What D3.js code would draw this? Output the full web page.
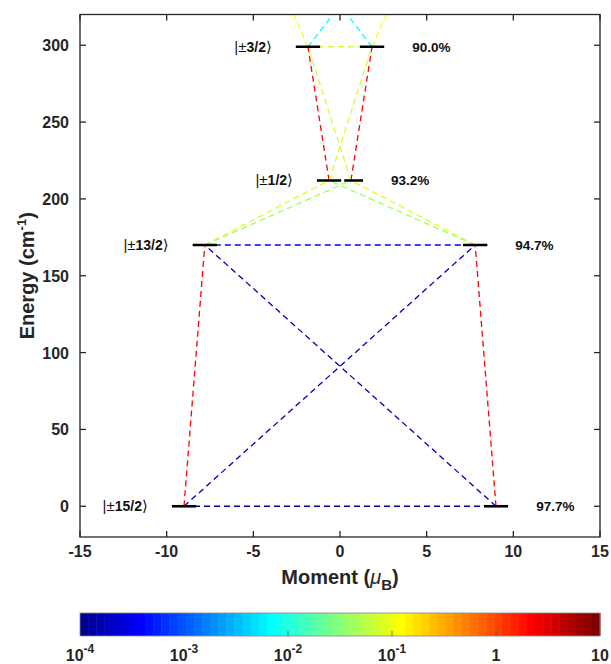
<!DOCTYPE html>
<html>
<head>
<meta charset="utf-8">
<script src="https://cdn.jsdelivr.net/npm/d3@7/dist/d3.min.js"></script>
<style>
  body { margin: 0; background: #fff; }
  svg  { display: block; font-family: "Liberation Sans", Arial, sans-serif; }
</style>
</head>
<body>
<div id="chart"></div>
<script>
// ############################################################################
// Kramers doublet energy diagram with transition moments (jet colour map)
// ############################################################################

// ----------------------------------------------------------------------------
// Data
// ----------------------------------------------------------------------------

// Doublets: label, energy (cm-1), moment (muB, plotted at +/-), purity (%)
const levels   = ['15/2', '13/2', '1/2', '3/2', '11/2']
const energies = [0, 170, 212, 299, 425]
const moments  = [9.0, 7.8, 0.63, 1.85, 6.8]
const purities = [97.7, 94.7, 93.2, 90.0, null]

// Transitions: [from, to, average transition moment]
const transitions = [
  ['-15/2', '+15/2', 1.2e-4],
  ['-15/2', '+13/2', 1.5e-4],
  ['+15/2', '-13/2', 1.5e-4],
  ['-15/2', '-13/2', 2.0],
  ['+15/2', '+13/2', 2.0],
  ['-13/2', '+13/2', 4.0e-4],
  ['-13/2', '-1/2',  0.08],
  ['-13/2', '+1/2',  0.045],
  ['+13/2', '+1/2',  0.08],
  ['+13/2', '-1/2',  0.045],
  ['-1/2',  '-3/2',  2.2],
  ['+1/2',  '+3/2',  2.2],
  ['-1/2',  '+3/2',  0.075],
  ['+1/2',  '-3/2',  0.075],
  ['-3/2',  '+3/2',  0.07],
  ['-3/2',  '-11/2', 0.13],
  ['+3/2',  '+11/2', 0.13],
  ['-3/2',  '+11/2', 0.007],
  ['+3/2',  '-11/2', 0.007],
]

const xTicks = [-15, -10, -5, 0, 5, 10, 15]
const yTicks = [0, 50, 100, 150, 200, 250, 300]
const cbarTicks  = [1e-4, 1e-3, 1e-2, 1e-1, 1, 10]
const cbarLabels = [['10', '-4'], ['10', '-3'], ['10', '-2'], ['10', '-1'], ['1', ''], ['10', '']]

// ----------------------------------------------------------------------------
// Layout
// ----------------------------------------------------------------------------

const W = 611, H = 664
const plot = { left: 80, right: 600, top: 14.5, bottom: 537 }
const cbar = { top: 613, bottom: 636 }
const barHalf = 0.7        // half width of a level bar (muB)
const ink = '#262626'

const svg = d3.select('#chart').append('svg')
  .attr('width', W)
  .attr('height', H)

const x = d3.scaleLinear().domain([-15, 15]).range([plot.left, plot.right])
const y = d3.scaleLinear().domain([-20, 320]).range([plot.bottom, plot.top])

// MATLAB jet(64)
function jet(m)
{
  const n = Math.ceil(m / 4)
  const u = []
  for (let i = 1; i <= n; i++) u.push(i / n)
  for (let i = 0; i < n - 1; i++) u.push(1)
  for (let i = n; i >= 1; i--) u.push(i / n)
  const g0 = Math.ceil(n / 2) - (m % 4 == 1 ? 1 : 0)
  const map = d3.range(m).map(() => [0, 0, 0])
  u.forEach((v, k) => {
    const gi = g0 + k, ri = gi + n, bi = gi - n
    if (ri >= 0 && ri < m) map[ri][0] = v
    if (gi >= 0 && gi < m) map[gi][1] = v
    if (bi >= 0 && bi < m) map[bi][2] = v
  })
  return map.map(c => d3.rgb(c[0] * 255, c[1] * 255, c[2] * 255).formatHex())
}
const colours = jet(64)
const logC = d3.scaleLog().domain([1e-4, 10]).range([0, 64])
const colourOf = v => colours[Math.max(0, Math.min(63, Math.floor(logC(v))))]

// Position of a signed state, e.g. '-13/2'
function state(id)
{
  const i = levels.indexOf(id.slice(1))
  const sign = id[0] == '-' ? -1 : 1
  return { m: sign * moments[i], e: energies[i] }
}

// ----------------------------------------------------------------------------
// Transitions (dashed, clipped to the axes)
// ----------------------------------------------------------------------------

svg.append('clipPath').attr('id', 'plot-clip')
  .append('rect')
  .attr('x', plot.left).attr('y', plot.top)
  .attr('width', plot.right - plot.left)
  .attr('height', plot.bottom - plot.top)

const body = svg.append('g').attr('clip-path', 'url(#plot-clip)')

body.selectAll('line.trans')
  .data(transitions)
  .join('line')
  .attr('class', 'trans')
  .attr('x1', d => x(state(d[0]).m))
  .attr('y1', d => y(state(d[0]).e))
  .attr('x2', d => x(state(d[1]).m))
  .attr('y2', d => y(state(d[1]).e))
  .attr('stroke', d => colourOf(d[2]))
  .attr('stroke-width', 1.3)
  .attr('stroke-dasharray', '6,4')

// ----------------------------------------------------------------------------
// Level bars and labels
// ----------------------------------------------------------------------------

const shown = levels.map((l, i) => i).filter(i => energies[i] <= y.domain()[1])

shown.forEach(i => {
  const e = energies[i], m = moments[i]
  const lx0 = x(-m - barHalf), lx1 = x(-m + barHalf)
  // right bar never runs into the left one
  const rx0 = Math.max(x(m - barHalf), lx1 + 3), rx1 = x(m + barHalf)

  body.append('line')
    .attr('x1', lx0).attr('x2', lx1)
    .attr('y1', y(e)).attr('y2', y(e))
    .attr('stroke', '#000').attr('stroke-width', 2.6)
  body.append('line')
    .attr('x1', rx0).attr('x2', rx1)
    .attr('y1', y(e)).attr('y2', y(e))
    .attr('stroke', '#000').attr('stroke-width', 2.6)

  const lab = svg.append('text')
    .attr('x', lx0 - 24)
    .attr('y', y(e) + 5)
    .attr('text-anchor', 'end')
    .style('font-size', '15px')
    .attr('fill', '#111')
  lab.append('tspan').text('|\u00b1')
  lab.append('tspan').attr('font-weight', 'bold').style('font-size', '14px').text(levels[i])
  lab.append('tspan').attr('font-family', 'DejaVu Sans').text('\u27e9')

  svg.append('text')
    .attr('x', rx1 + 28)
    .attr('y', y(e) + 5)
    .attr('font-weight', 'bold')
    .attr('fill', '#111')
    .style('font-size', '13.5px')
    .text(purities[i].toFixed(1) + '%')
})

// ----------------------------------------------------------------------------
// Axes (box with inward ticks on all sides)
// ----------------------------------------------------------------------------

const tickLen = 6
const axes = svg.append('g')
  .attr('stroke', ink)
  .attr('stroke-width', 1.3)

axes.append('rect')
  .attr('x', plot.left).attr('y', plot.top)
  .attr('width', plot.right - plot.left)
  .attr('height', plot.bottom - plot.top)
  .attr('fill', 'none')

xTicks.forEach(t => {
  axes.append('line').attr('x1', x(t)).attr('x2', x(t))
    .attr('y1', plot.bottom).attr('y2', plot.bottom - tickLen)
  axes.append('line').attr('x1', x(t)).attr('x2', x(t))
    .attr('y1', plot.top).attr('y2', plot.top + tickLen)
})
yTicks.forEach(t => {
  axes.append('line').attr('y1', y(t)).attr('y2', y(t))
    .attr('x1', plot.left).attr('x2', plot.left + tickLen)
  axes.append('line').attr('y1', y(t)).attr('y2', y(t))
    .attr('x1', plot.right).attr('x2', plot.right - tickLen)
})

svg.append('g').selectAll('text')
  .data(xTicks)
  .join('text')
  .attr('x', d => x(d))
  .attr('y', plot.bottom + 20)
  .attr('text-anchor', 'middle')
  .attr('font-weight', 'bold')
  .attr('fill', ink)
  .style('font-size', '16px')
  .text(d => d)

svg.append('g').selectAll('text')
  .data(yTicks)
  .join('text')
  .attr('x', plot.left - 11)
  .attr('y', d => y(d) + 6)
  .attr('text-anchor', 'end')
  .attr('font-weight', 'bold')
  .attr('fill', ink)
  .style('font-size', '16px')
  .text(d => d)

// Axis titles
const xTitle = svg.append('text')
  .attr('x', x(0))
  .attr('y', 584)
  .attr('text-anchor', 'middle')
  .attr('font-weight', 'bold')
  .attr('fill', ink)
  .style('font-size', '20px')
xTitle.append('tspan').text('Moment (')
xTitle.append('tspan').attr('font-style', 'italic').attr('font-weight', 'normal').text('\u03bc')
xTitle.append('tspan').attr('dy', 6).style('font-size', '15px').text('B')
xTitle.append('tspan').attr('dy', -6).text(')')

const yTitle = svg.append('text')
  .attr('transform', `translate(34,${y(150)}) rotate(-90)`)
  .attr('text-anchor', 'middle')
  .attr('font-weight', 'bold')
  .attr('fill', ink)
  .style('font-size', '20px')
yTitle.append('tspan').text('Energy (cm')
yTitle.append('tspan').attr('dy', -8).style('font-size', '13px').text('-1')
yTitle.append('tspan').attr('dy', 8).text(')')

// ----------------------------------------------------------------------------
// Colour bar
// ----------------------------------------------------------------------------

const cx = d3.scaleLog().domain([1e-4, 10]).range([plot.left, plot.right])
const bandW = (plot.right - plot.left) / colours.length

svg.append('g').selectAll('rect')
  .data(colours)
  .join('rect')
  .attr('x', (d, i) => plot.left + i * bandW)
  .attr('y', cbar.top)
  .attr('width', bandW + 0.5)
  .attr('height', cbar.bottom - cbar.top)
  .attr('fill', d => d)

svg.append('rect')
  .attr('x', plot.left).attr('y', cbar.top)
  .attr('width', plot.right - plot.left)
  .attr('height', cbar.bottom - cbar.top)
  .attr('fill', 'none')
  .attr('stroke', '#888')
  .attr('stroke-width', 0.8)

svg.append('g').selectAll('line')
  .data(cbarTicks.slice(1, -1))
  .join('line')
  .attr('x1', d => cx(d)).attr('x2', d => cx(d))
  .attr('y1', cbar.bottom).attr('y2', cbar.bottom - 5)
  .attr('stroke', '#555')
  .attr('stroke-width', 0.8)

cbarTicks.forEach((t, i) => {
  const lab = svg.append('text')
    .attr('x', cx(t))
    .attr('y', 661)
    .attr('text-anchor', 'middle')
    .attr('font-weight', 'bold')
    .attr('fill', ink)
    .style('font-size', '16px')
  lab.append('tspan').text(cbarLabels[i][0])
  if (cbarLabels[i][1])
    lab.append('tspan').attr('dy', -8).style('font-size', '12px').text(cbarLabels[i][1])
})
</script>
</body>
</html>
